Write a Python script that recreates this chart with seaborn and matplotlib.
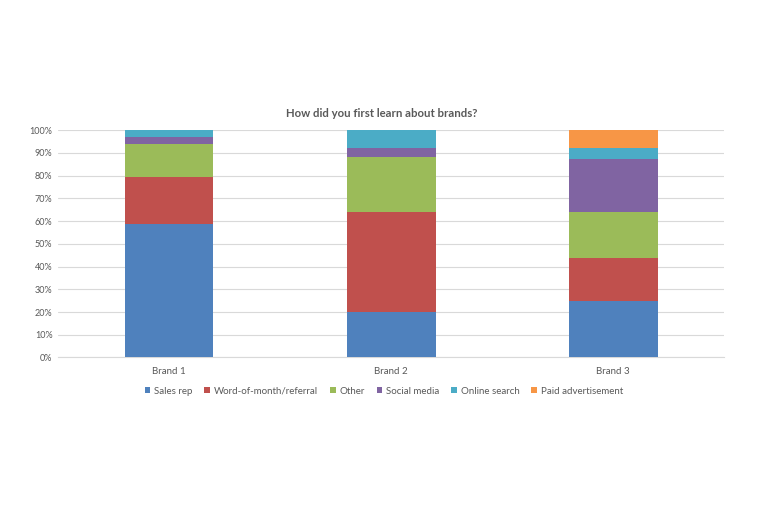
import matplotlib
matplotlib.use("Agg")
import matplotlib.pyplot as plt
import seaborn as sns
import numpy as np
from matplotlib.ticker import PercentFormatter
from matplotlib.patches import Patch

brands = ["Brand 1", "Brand 2", "Brand 3"]
series = ["Sales rep", "Word-of-month/referral", "Other", "Social media", "Online search", "Paid advertisement"]
sales_rep = [58.7, 20.0, 25.0]
word_of_mouth = [20.5, 44.0, 18.7]
other = [14.8, 24.0, 20.3]
social_media = [2.8, 4.0, 23.4]
online_search = [3.2, 8.0, 4.6]
paid_ad = [0.0, 0.0, 8.0]
values = [sales_rep, word_of_mouth, other, social_media, online_search, paid_ad]
colors = ["#4F81BD", "#C0504D", "#9BBB59", "#8064A2", "#4BACC6", "#F79646"]

sns.set_theme(style="white")
plt.rcParams['font.family'] = ['Lato', 'DejaVu Sans']

fig = plt.figure(figsize=(7.68, 5.12), dpi=100)
ax = fig.add_axes([0.0755, 0.3018, 0.8675, 0.444])

bottom = np.zeros(len(brands))
for name, vals, c in zip(series, values, colors):
    v = np.array(vals) / 100.0
    sns.barplot(x=brands, y=v, bottom=bottom, color=c, width=0.4, ax=ax,
                saturation=1, linewidth=0, zorder=3)
    bottom = bottom + v

ax.set_ylim(0, 1.0)
ax.set_yticks(np.arange(0, 1.01, 0.1))
ax.yaxis.set_major_formatter(PercentFormatter(1.0, decimals=0))
ax.grid(axis='y', color='#D9D9D9', linewidth=0.8, zorder=0)
ax.set_axisbelow(True)
for s in ['top', 'right', 'left']:
    ax.spines[s].set_visible(False)
ax.spines['bottom'].set_color('#D9D9D9')
ax.spines['bottom'].set_linewidth(0.8)
ax.tick_params(axis='both', length=0, labelsize=6.5, colors='#595959')
ax.tick_params(axis='x', labelsize=7, pad=7)
ax.tick_params(axis='y', pad=4)
ax.set_xlabel("")
ax.set_ylabel("")

fig.text(0.497, 0.779, "How did you first learn about brands?", ha='center', va='center',
         fontsize=8.2, fontweight='bold', color='#595959')

handles = [Patch(facecolor=c, edgecolor='none', label=n) for n, c in zip(series, colors)]
fig.legend(handles=handles, loc='center', bbox_to_anchor=(0.5, 0.236), ncol=6,
           frameon=False, fontsize=7, handlelength=0.6, handleheight=0.6,
           handletextpad=0.4, columnspacing=1.2, labelcolor='#595959')

fig.savefig("out.png", dpi=100)
